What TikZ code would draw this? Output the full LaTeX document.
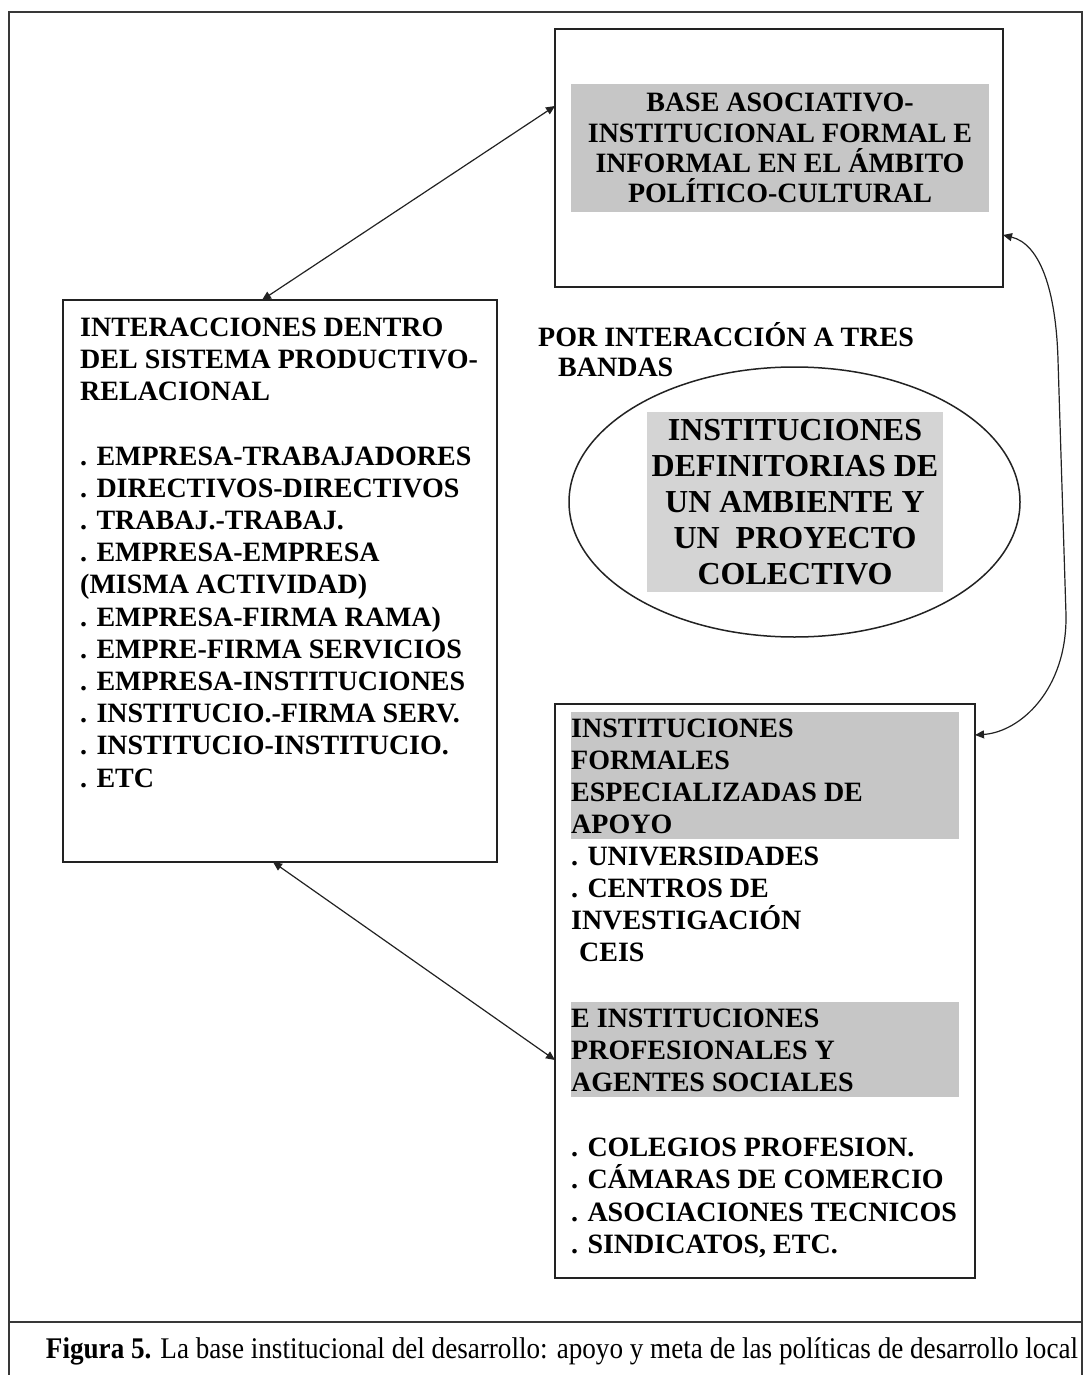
\documentclass[tikz,border=0pt]{standalone}
\usepackage{fontspec}
\setmainfont{Liberation Serif}
\usepackage{graphicx}
\usetikzlibrary{arrows.meta,shapes.geometric}

\definecolor{panelgray}{HTML}{C6C6C6}
\definecolor{ovalgray}{HTML}{D4D4D4}
\definecolor{ink}{HTML}{222222}

\begin{document}
\begin{tikzpicture}[x=1pt,y=-1pt,
  frameline/.style={draw=ink!90,line width=2.2pt},
  boxline/.style={draw=ink,line width=1.8pt,inner sep=0pt,outer sep=0pt,anchor=north west},
  panel/.style={fill=panelgray,inner sep=0pt,outer sep=0pt,anchor=north west},
  bodytext/.style={font=\fontsize{28}{32.2}\selectfont\bfseries,align=left,inner sep=0pt,anchor=north west},
  tip/.style={Triangle[length=9pt,width=8pt]},
  link/.style={draw=ink,line width=1.2pt,{Triangle[length=9pt,width=8pt]}-{Triangle[length=9pt,width=8pt]}},
]
\useasboundingbox (0,0) rectangle (1083,1375);

% page frame and caption rule
\draw[frameline] (9,1385) -- (9,12) -- (1082,12) -- (1082,1385);
\draw[frameline] (9,1322) -- (1082,1322);

% upper right box: political-cultural base
\node[boxline,minimum width=448pt,minimum height=258pt] (base) at (555,29) {};
\node[fill=panelgray,inner sep=0pt,minimum width=418pt,minimum height=128pt,
      align=center,font=\fontsize{28}{30.2}\selectfont\bfseries] (basetxt) at (780,148)
  {BASE ASOCIATIVO-\\INSTITUCIONAL FORMAL E\\INFORMAL EN EL ÁMBITO\\POLÍTICO-CULTURAL};

% left box: productive-relational system
\node[boxline,minimum width=434pt,minimum height=562pt] (inter) at (63,300) {};
\node[bodytext] (intertxt) at (80,317.5)
  {INTERACCIONES DENTRO\\DEL SISTEMA PRODUCTIVO-\\RELACIONAL\\\mbox{}\\
   . EMPRESA-TRABAJADORES\\. DIRECTIVOS-DIRECTIVOS\\. TRABAJ.-TRABAJ.\\
   . EMPRESA-EMPRESA\\(MISMA ACTIVIDAD)\\. EMPRESA-FIRMA RAMA)\\
   . EMPRE-FIRMA SERVICIOS\\. EMPRESA-INSTITUCIONES\\. INSTITUCIO.-FIRMA SERV.\\
   . INSTITUCIO-INSTITUCIO.\\. ETC};

% three-way interaction label
\node[font=\fontsize{28}{30}\selectfont\bfseries,align=left,inner sep=0pt,anchor=north west]
  (tres) at (538,322.5) {POR INTERACCIÓN A TRES\\\hspace*{20pt}BANDAS};

% central ellipse
\node[ellipse,draw=ink,line width=1.5pt,minimum width=451pt,minimum height=270pt,inner sep=0pt] (amb) at (794.5,502) {};
\node[fill=ovalgray,inner sep=0pt,minimum width=296pt,minimum height=180pt,
      align=center,font=\fontsize{32}{36}\selectfont\bfseries] (ambtxt) at (795,502)
  {INSTITUCIONES\\DEFINITORIAS DE\\UN AMBIENTE Y\\UN\ \ PROYECTO\\COLECTIVO};

% lower right box: specialised support institutions
\node[boxline,minimum width=420pt,minimum height=574pt] (inst) at (555,704) {};
\node[panel,minimum width=388pt,minimum height=127pt] (apoyo) at (571,712) {};
\node[panel,minimum width=388pt,minimum height=95pt] (agentes) at (571,1002) {};
\node[bodytext,font=\fontsize{28}{32.1}\selectfont\bfseries] (apoyotxt) at (571,718.5)
  {INSTITUCIONES\\FORMALES\\ESPECIALIZADAS DE\\APOYO\\. UNIVERSIDADES\\
   . CENTROS DE\\INVESTIGACIÓN\\\hspace*{8pt}CEIS};
\node[bodytext,font=\fontsize{28}{32.3}\selectfont\bfseries] (agentestxt) at (571,1008.5)
  {E INSTITUCIONES\\PROFESIONALES Y\\AGENTES SOCIALES\\\mbox{}\\
   . COLEGIOS PROFESION.\\. CÁMARAS DE COMERCIO\\. ASOCIACIONES TECNICOS\\
   . SINDICATOS, ETC.};

% connectors
\draw[link] ([xshift=-18pt]inter.north) -- ([yshift=52pt]base.west);
\draw[link] ([xshift=-7pt]inter.south) -- ([yshift=-69pt]inst.west);
\draw[link] ([yshift=52pt]base.south east)
  .. controls (1040,244) and (1056,290) .. (1058,360)
  -- (1066,615)
  .. controls (1067,690) and (1020,732) .. ([yshift=-31pt]inst.north east);

% caption
\node[inner sep=0pt] (cap) at (562,1351)
  {\resizebox{1032pt}{\height}{\fontsize{30}{34}\selectfont\textbf{Figura 5.} La base institucional del desarrollo: apoyo y meta de las políticas de desarrollo local}};
\end{tikzpicture}
\end{document}
